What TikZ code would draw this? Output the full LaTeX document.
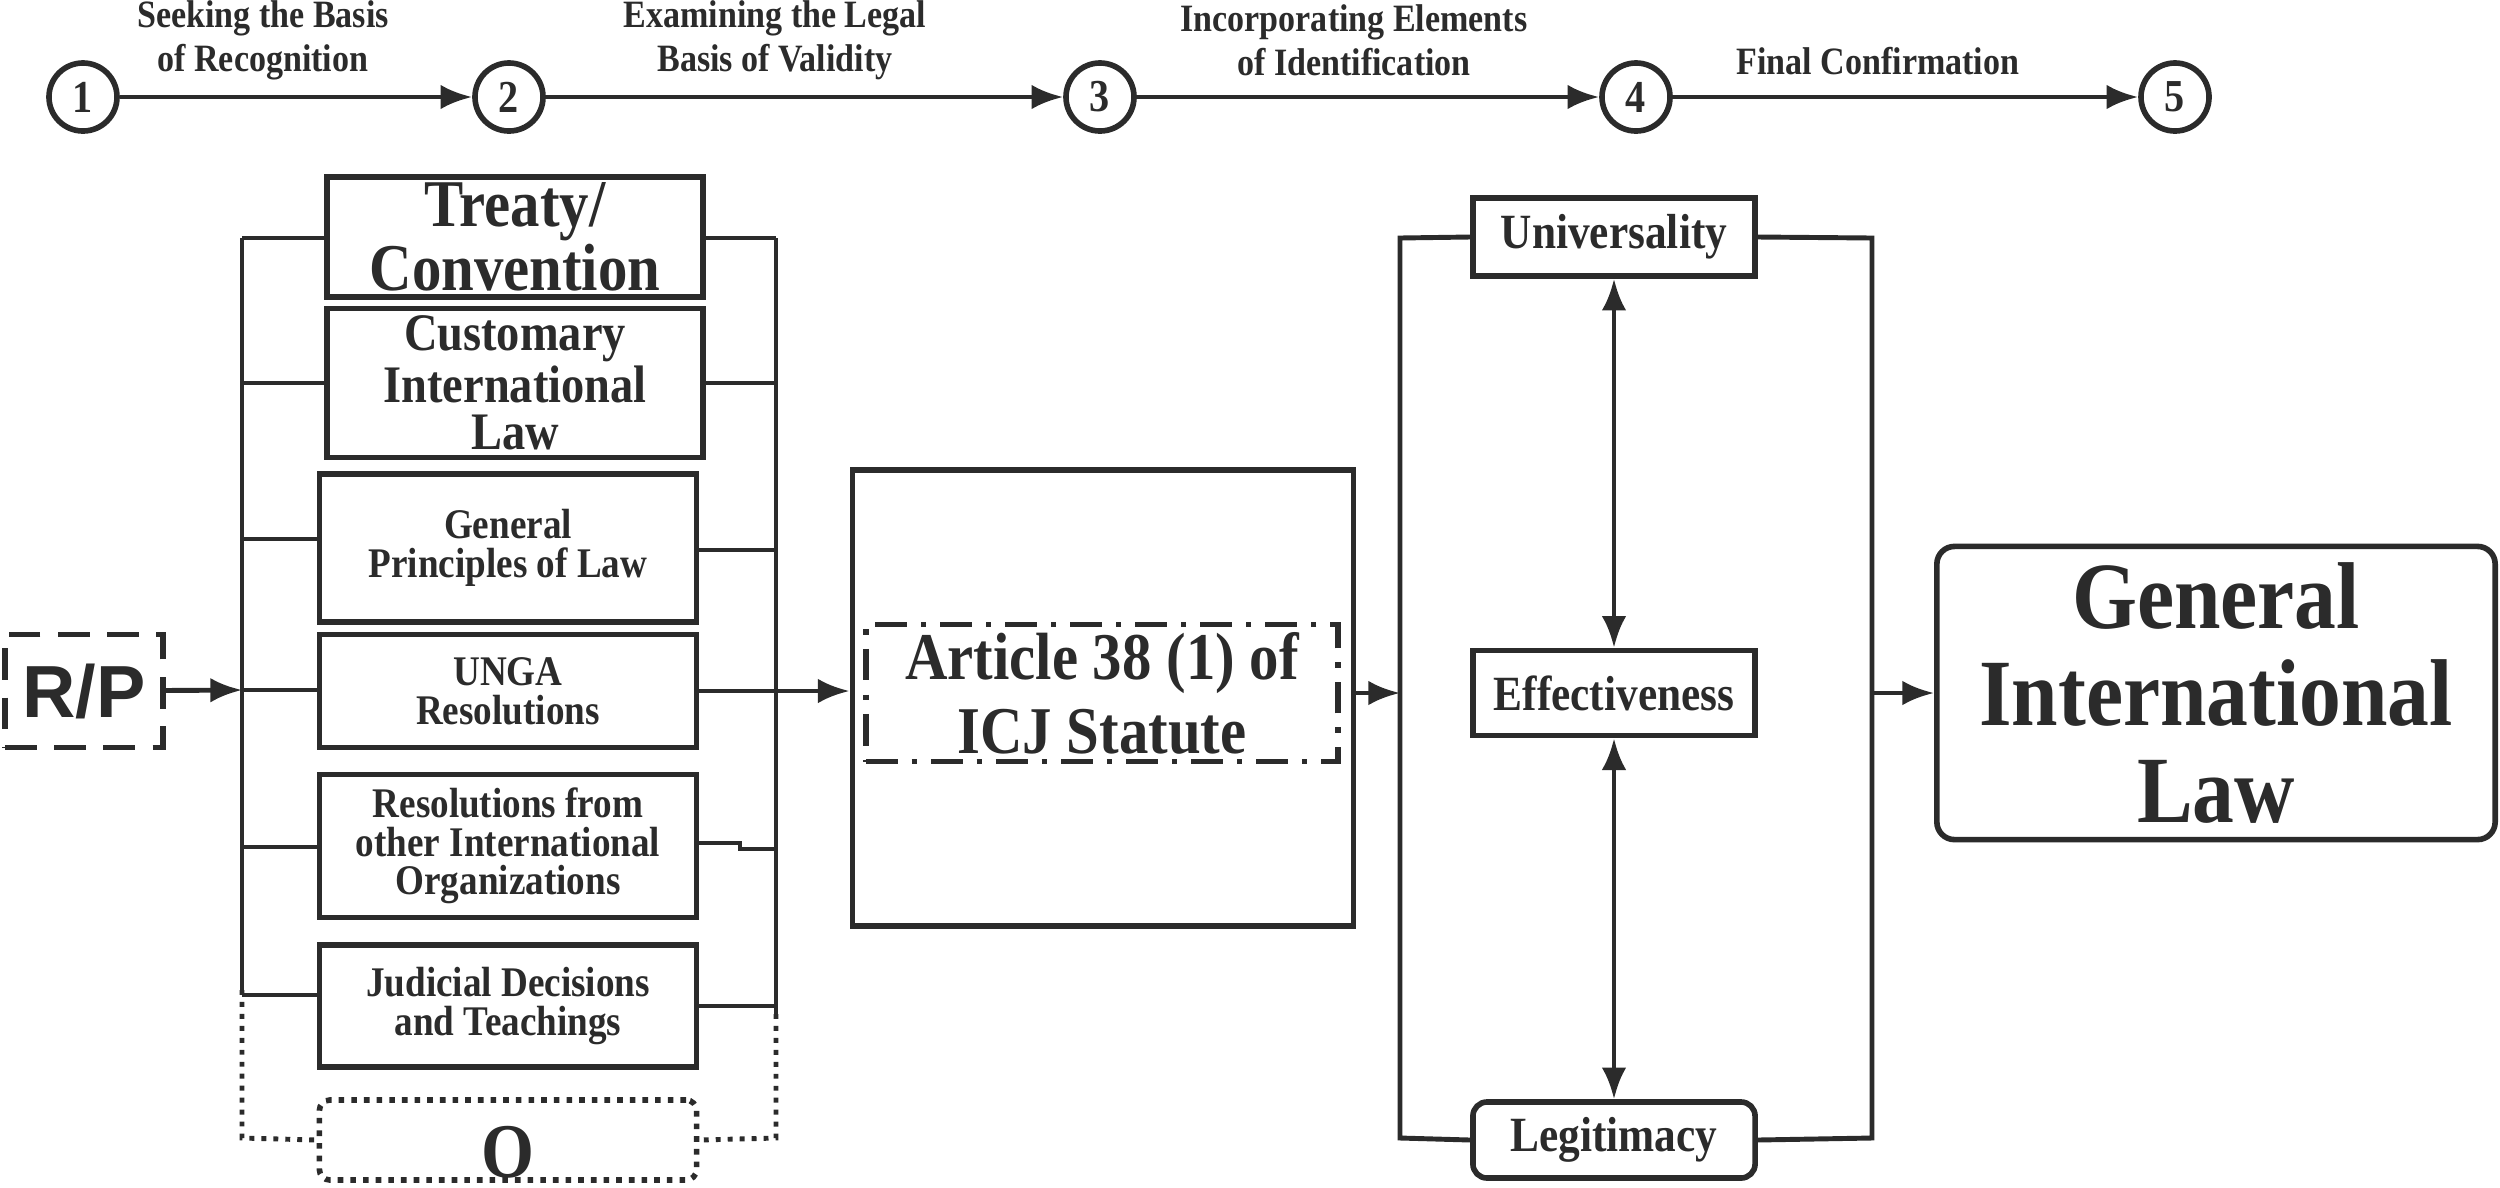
\documentclass[tikz,border=0pt]{standalone}
\usepackage{fontspec}
\setmainfont{Liberation Serif}[FakeStretch=0.88]
\newfontfamily\rpfont{Liberation Sans}
\usetikzlibrary{arrows.meta}
\definecolor{ink}{HTML}{2B2B2B}
\begin{document}
\begin{tikzpicture}[x=0.01cm,y=-0.01cm,line width=1.4pt,draw=ink,text=ink,
  font=\bfseries,
  box/.style={draw,line width=1.6pt,align=center,inner sep=0pt},
  stepc/.style={draw,circle,line width=1.6pt,minimum size=0.68cm,inner sep=0pt,font=\bfseries\fontsize{13}{13}\selectfont},
  lab/.style={align=center,font=\bfseries\fontsize{11}{12.5}\selectfont},
  arr/.style={-{Latex[length=9pt,width=7pt]}},
  darr/.style={{Latex[length=9pt,width=7pt]}-{Latex[length=9pt,width=7pt]}}]
\useasboundingbox (0,0) rectangle (2500,1187);
% step line
\foreach \i/\x in {1/83,2/509,3/1100,4/1636,5/2175}
  \node[stepc] (s\i) at (\x,97) {\i};
\draw[arr] (s1) -- (s2);
\draw[arr] (s2) -- (s3);
\draw[arr] (s3) -- (s4);
\draw[arr] (s4) -- (s5);
\node[lab] (l1) at (263,40) {Seeking the Basis\\of Recognition};
\node[lab] (l2) at (775,40) {Examining the Legal\\Basis of Validity};
\node[lab] (l3) at (1354,40) {Incorporating Elements\\of Identification};
\node[lab] (l4) at (1878,61) {Final Confirmation};
% sources
\node[box,minimum width=3.76cm,minimum height=1.2cm,font=\bfseries\fontsize{19}{17}\selectfont] (tc) at (515,237) {Treaty/\\Convention};
\node[box,minimum width=3.76cm,minimum height=1.49cm,font=\bfseries\fontsize{15}{13.5}\selectfont] (cil) at (515,383) {Customary\\International\\Law};
\node[box,minimum width=3.77cm,minimum height=1.48cm,font=\bfseries\fontsize{12}{11}\selectfont] (gp) at (508,548) {General\\Principles of Law};
\node[box,minimum width=3.77cm,minimum height=1.13cm,font=\bfseries\fontsize{12}{11}\selectfont] (un) at (508,691) {UNGA\\Resolutions};
\node[box,minimum width=3.77cm,minimum height=1.43cm,font=\bfseries\fontsize{12}{11}\selectfont] (ro) at (508,846) {Resolutions from\\other International\\Organizations};
\node[box,minimum width=3.77cm,minimum height=1.22cm,font=\bfseries\fontsize{12}{11}\selectfont] (jd) at (508,1006) {Judicial Decisions\\and Teachings};
\node[box,dotted,rounded corners=3pt,minimum width=3.77cm,minimum height=0.8cm] (o) at (508,1140) {};
\node[font=\bfseries\fontsize{22}{22}\selectfont] (ot) at (508,1152) {O};
% buses
\coordinate (lt) at (242,238);
\coordinate (lb) at (242,990);
\coordinate (lo) at (242,1138);
\coordinate (rt) at (776,238);
\coordinate (rb) at (776,1014);
\coordinate (ro2) at (776,1138);
\draw (lt) -- (lb);
\draw (rt) -- (rb);
\draw[dotted] (lb) -- (lo) -- (o.west);
\draw[dotted] (rb) -- (ro2) -- (o.east);
\draw (lt) -- (tc.west |- lt);
\draw (242,383) -- (cil.west |- 0,383);
\draw (242,539) -- (gp.west |- 0,539);
\draw (242,847) -- (ro.west |- 0,847);
\draw (242,995) -- (jd.west |- 0,995);
\draw (rt) -- (tc.east |- rt);
\draw (776,383) -- (cil.east |- 0,383);
\draw (776,550) -- (gp.east |- 0,550);
\draw (ro.east |- 0,843) -- (740,843) -- (740,849) -- (776,849);
\draw (776,1006) -- (jd.east |- 0,1006);
% R/P
\node[box,dash pattern=on 9pt off 5pt,minimum width=1.58cm,minimum height=1.13cm,font=\rpfont\bfseries\fontsize{21}{21}\selectfont] (rp) at (84,691) {R/P};
\coordinate (lm) at (242,690);
\draw[arr] (rp) -- (lm);
\draw (lm) -- (un.west |- lm);
% Article 38
\node[box,minimum width=5.01cm,minimum height=4.56cm] (art) at (1103,698) {};
\node[box,dash pattern=on 9pt off 4pt on 1.5pt off 4pt,minimum width=4.72cm,minimum height=1.37cm,font=\bfseries\fontsize{19}{21}\selectfont] (a38) at (1102,693) {Article 38 (1) of\\ICJ Statute};
\draw[arr] (un.east) -- (un.east -| art.west);
% criteria
\node[box,minimum width=2.82cm,minimum height=0.78cm,font=\bfseries\fontsize{14}{14}\selectfont] (uv) at (1614,237) {Universality};
\node[box,minimum width=2.82cm,minimum height=0.85cm,font=\bfseries\fontsize{14}{14}\selectfont] (ef) at (1614,693) {Effectiveness};
\node[box,rounded corners=4pt,minimum width=2.82cm,minimum height=0.76cm,font=\bfseries\fontsize{14}{14}\selectfont] (lg) at (1614,1140) {Legitimacy};
\draw[darr] (uv) -- (ef);
\draw[darr] (ef) -- (lg);
\coordinate (ct) at (1400,238);
\coordinate (cb) at (1400,1138);
\coordinate (dt) at (1872,238);
\coordinate (db) at (1872,1138);
\draw (uv.west) -- (ct) -- (cb) -- (lg.west);
\draw (uv.east) -- (dt) -- (db) -- (lg.east);
\draw[arr] (art.east |- 0,693) -- (1400,693);
% result
\node[box,rounded corners=5pt,minimum width=5.58cm,minimum height=2.93cm,font=\bfseries\fontsize{27}{27.5}\selectfont] (gil) at (2216,693) {General\\International\\Law};
\draw[arr] (1872,693) -- (gil.west);
\end{tikzpicture}
\end{document}
